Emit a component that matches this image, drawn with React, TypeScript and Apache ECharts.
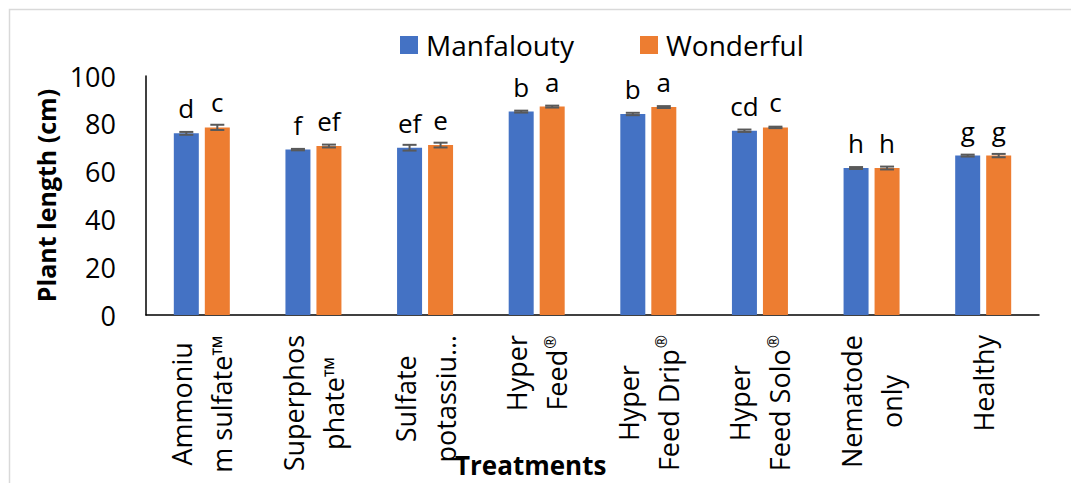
import React, { useEffect, useRef } from "react";
import * as echarts from "echarts";

const categories = [
  "Ammoniu\nm sulfate™",
  "Superphos\nphate™",
  "Sulfate\npotassiu…",
  "Hyper\nFeed®",
  "Hyper\nFeed Drip®",
  "Hyper\nFeed Solo®",
  "Nematode\nonly",
  "Healthy",
];
const manfalouty = [76.0, 69.2, 70.0, 85.1, 84.1, 77.1, 61.5, 66.7];
const wonderful = [78.5, 70.7, 71.1, 87.2, 87.0, 78.5, 61.5, 66.7];
const manfaloutyErr = [0.6, 0.3, 1.2, 0.4, 0.5, 0.5, 0.4, 0.4];
const wonderfulErr = [1.1, 0.6, 1.0, 0.4, 0.4, 0.3, 0.6, 0.7];
const manfaloutyLetters = ["d", "f", "ef", "b", "b", "cd", "h", "g"];
const wonderfulLetters = ["c", "ef", "e", "a", "a", "c", "h", "g"];

const FONT = "'Open Sans', sans-serif";
const BLUE = "#4472C4";
const ORANGE = "#ED7D31";
const BAR_W = 25;
const BAR_GAP_PX = 6;

function errorSeries(name: string, values: number[], errs: number[], sign: number) {
  return {
    name: name + " error",
    type: "custom",
    z: 5,
    data: values.map((v, i) => [i, v, errs[i]]),
    encode: { x: 0, y: 1 },
    renderItem: (params: any, api: any) => {
      const i = api.value(0);
      const v = api.value(1);
      const e = api.value(2);
      const c = api.coord([i, v]);
      const hi = api.coord([i, v + e])[1];
      const lo = api.coord([i, v - e])[1];
      const cx = c[0] + (sign * (BAR_W + BAR_GAP_PX)) / 2;
      const cap = 7;
      const style = { stroke: "#595959", lineWidth: 2 };
      return {
        type: "group",
        children: [
          { type: "line", shape: { x1: cx, y1: hi, x2: cx, y2: lo }, style },
          { type: "line", shape: { x1: cx - cap, y1: hi, x2: cx + cap, y2: hi }, style },
          { type: "line", shape: { x1: cx - cap, y1: lo, x2: cx + cap, y2: lo }, style },
        ],
      };
    },
  };
}

function formatCategory(v: string) {
  return v
    .split("\n")
    .map((l) => {
      if (l.endsWith("®")) return "{c|" + l.slice(0, -1) + "}{r|®}";
      return "{c|" + l + "}";
    })
    .join("\n");
}

export default function App() {
  const ref = useRef<HTMLDivElement>(null);
  useEffect(() => {
    if (!ref.current) return;
    const chart = echarts.init(ref.current, null, { renderer: "svg" });
    const letterLabel = (letters: string[]) => ({
      show: true,
      position: "top",
      distance: 12,
      fontSize: 26,
      fontFamily: FONT,
      color: "#000",
      formatter: (p: any) => letters[p.dataIndex],
    });
    chart.setOption({
      animation: false,
      backgroundColor: "#fff",
      graphic: [
        {
          type: "rect",
          z: -10,
          shape: { x: 9.5, y: 9.5, width: 1200, height: 600 },
          style: { fill: "none", stroke: "#d9d9d9", lineWidth: 1.5 },
        },
      ],
      title: {
        text: "Treatments",
        left: 455,
        top: 452,
        padding: 0,
        textStyle: { fontSize: 26, fontWeight: "bold", fontFamily: FONT, color: "#000" },
      },
      legend: {
        data: ["Manfalouty", "Wonderful"],
        left: 395,
        top: 26,
        itemWidth: 18,
        itemHeight: 18,
        itemGap: 66,
        icon: "rect",
        textStyle: { fontSize: 28, fontFamily: FONT, color: "#000", padding: [0, 0, 0, 3] },
      },
      grid: { left: 146, right: 32, top: 76, bottom: 168 },
      xAxis: {
        type: "category",
        data: categories,
        axisLine: { lineStyle: { color: "#000", width: 1.5 } },
        axisTick: { show: false },
        axisLabel: {
          interval: 0,
          rotate: 90,
          margin: 20,
          formatter: formatCategory,
          rich: {
            c: { align: "center", fontSize: 27, fontFamily: FONT, color: "#000", lineHeight: 40 },
            r: {
              align: "center",
              fontSize: 16,
              fontFamily: FONT,
              color: "#000",
              lineHeight: 40,
              padding: [0, 0, 14, 1],
            },
          },
        },
      },
      yAxis: {
        type: "value",
        min: 0,
        max: 100,
        interval: 20,
        name: "Plant length (cm)",
        nameLocation: "middle",
        nameGap: 88,
        nameTextStyle: { fontSize: 25, fontWeight: "bold", fontFamily: FONT, color: "#000" },
        axisLine: { show: true, lineStyle: { color: "#000", width: 1.5 } },
        axisTick: { show: false },
        splitLine: { show: false },
        axisLabel: { margin: 30, fontSize: 27, fontFamily: FONT, color: "#000" },
      },
      series: [
        {
          name: "Manfalouty",
          type: "bar",
          data: manfalouty,
          barWidth: BAR_W,
          barGap: (BAR_GAP_PX / BAR_W) * 100 + "%",
          itemStyle: { color: BLUE },
          label: letterLabel(manfaloutyLetters),
        },
        {
          name: "Wonderful",
          type: "bar",
          data: wonderful,
          barWidth: BAR_W,
          barGap: (BAR_GAP_PX / BAR_W) * 100 + "%",
          itemStyle: { color: ORANGE },
          label: letterLabel(wonderfulLetters),
        },
        errorSeries("Manfalouty", manfalouty, manfaloutyErr, -1),
        errorSeries("Wonderful", wonderful, wonderfulErr, 1),
      ],
    });
    return () => chart.dispose();
  }, []);
  return (
    <div
      ref={ref}
      style={{ position: "fixed", left: 0, top: 0, width: 1071, height: 483 }}
    />
  );
}
